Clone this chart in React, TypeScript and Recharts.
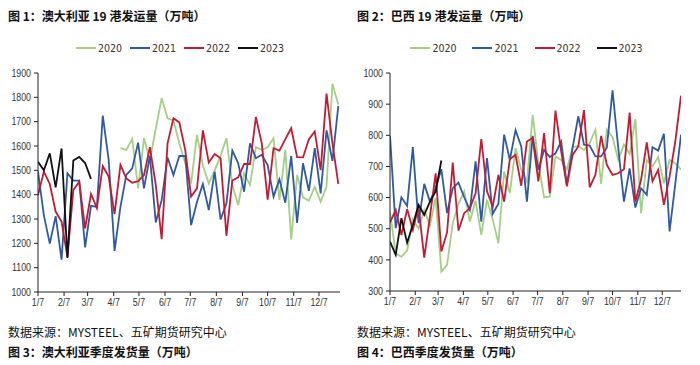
import React from 'react';
import { LineChart, Line, XAxis, YAxis, Legend } from 'recharts';

// ---------- categories / tick labels ----------
const monthTickLabels = ['1/7', '2/7', '3/7', '4/7', '5/7', '6/7', '7/7', '8/7', '9/7', '10/7', '11/7', '12/7'];
const seriesNames = ['2020', '2021', '2022', '2023'];
const seriesColors = ['#a3d086', '#2f5aa3', '#c51a32', '#111111'];
const ausYTicks = [1000, 1100, 1200, 1300, 1400, 1500, 1600, 1700, 1800, 1900];
const braYTicks = [300, 400, 500, 600, 700, 800, 900, 1000];

// ---------- Australia 19 ports weekly shipments (10k t) ----------
const aus2020: (number | null)[] = [
  null, null, null, null, null, null, null, null, null, null, null, null, null, null,
  1591, 1584, 1629, 1426, 1632, 1543, 1670, 1797, 1714, 1705,
  1610, 1530, 1446, 1646, 1520, 1446, 1500, 1560, 1632, 1440,
  1357, 1488, 1440, 1595, 1584, 1595, 1632, 1378, 1584, 1216,
  1481, 1389, 1375, 1433, 1371, 1433, 1856, 1770,
];
const aus2021: (number | null)[] = [
  1495, 1315, 1199, 1312, 1133, 1488, 1458, 1458, 1183, 1354,
  1350, 1725, 1543, 1169, 1350, 1481, 1508, 1614, 1426, 1559,
  1286, 1378, 1553, 1481, 1559, 1559, 1275, 1370, 1444, 1337,
  1495, 1298, 1364, 1581, 1529, 1412, 1611, 1550, 1564, 1522,
  1392, 1463, 1367, 1559, 1284, 1529, 1416, 1591, 1405, 1664,
  1539, 1765,
];
const aus2022: (number | null)[] = [
  1398, 1495, 1444, 1330, 1289, 1144, 1419, 1453, 1261, 1403,
  1345, 1518, 1474, 1320, 1522, 1467, 1449, 1455, 1481, 1595,
  1440, 1217, 1611, 1714, 1697, 1584, 1392, 1426, 1664, 1532,
  1567, 1550, 1231, 1458, 1471, 1526, 1526, 1719, 1611, 1380,
  1591, 1581, 1628, 1673, 1554, 1553, 1628, 1660, 1501, 1815,
  1611, 1444,
];
const aus2023: (number | null)[] = [1535, 1500, 1570, 1430, 1590, 1140, 1540, 1555, 1530, 1465];

// ---------- Brazil 19 ports weekly shipments (10k t) ----------
const bra2020: (number | null)[] = [
  555, 420, 410, 430, 530, 500, 560, 510, 600, 362,
  384, 518, 580, 620, 523, 590, 480, 593, 530, 453,
  684, 614, 759, 689, 650, 866, 711, 601, 603, 732,
  721, 690, 762, 766, 753, 775, 818, 644, 818, 794,
  721, 770, 740, 852, 550, 720, 700, 730, 646, 720,
  710, 690,
];
const bra2021: (number | null)[] = [
  798, 502, 601, 573, 762, 518, 644, 587, 630, 691,
  550, 630, 648, 601, 560, 716, 523, 727, 548, 580,
  802, 721, 816, 764, 587, 798, 689, 753, 730, 742,
  780, 641, 760, 861, 770, 767, 732, 732, 760, 944,
  760, 587, 694, 568, 630, 609, 762, 751, 805, 491,
  645, 802,
];
const bra2022: (number | null)[] = [
  520, 560, 480, 563, 496, 571, 407, 539, 678, 427,
  488, 712, 494, 550, 566, 614, 788, 620, 571, 673,
  587, 723, 737, 638, 780, 791, 652, 807, 614, 879,
  748, 636, 737, 764, 881, 633, 673, 798, 705, 673,
  678, 691, 873, 587, 657, 777, 652, 689, 577, 668,
  780, 927,
];
const bra2023: (number | null)[] = [459, 416, 534, 455, 512, 577, 544, 587, 620, 719];

// ---------- helpers ----------
const DAY = 86400000;
const base = Date.UTC(2023, 0, 7);
const dayOf = (label: string) => {
  const [m, d] = label.split('/').map(Number);
  return Math.round((Date.UTC(2023, m - 1, d) - base) / DAY);
};
const tickDays = monthTickLabels.map(dayOf);
const labelByDay: Record<number, string> = {};
monthTickLabels.forEach((l) => (labelByDay[dayOf(l)] = l));

const buildRows = (cols: (number | null)[][]) => {
  const n = Math.max(...cols.map((c) => c.length));
  const rows: any[] = [];
  for (let i = 0; i < n; i++) {
    const r: any = { d: i * 7 };
    seriesNames.forEach((s, k) => {
      const v = cols[k][i];
      r[s] = v === undefined ? null : v;
    });
    rows.push(r);
  }
  return rows;
};

const ausRows = buildRows([aus2020, aus2021, aus2022, aus2023]);
const braRows = buildRows([bra2020, bra2021, bra2022, bra2023]);

const narrow = "'Liberation Sans Narrow', 'DejaVu Sans Condensed', 'Arial Narrow', sans-serif";
const cjk = "'Noto Sans CJK SC', 'Noto Sans', sans-serif";

const NarrowTick = (props: any) => {
  const { x, y, payload, textAnchor, isX } = props;
  const label = isX ? labelByDay[payload.value] ?? '' : String(payload.value);
  return (
    <g transform={`translate(${x},${y})`}>
      <text
        transform="scale(0.84,1)"
        textAnchor={textAnchor}
        dy={isX ? '0.71em' : '0.355em'}
        fontSize={10.5}
        fill="#333"
        fontFamily="'Liberation Sans', Arial, sans-serif"
      >
        {label}
      </text>
    </g>
  );
};

const makeLegend = (gap: number, shift: number) => (props: any) => {
  const payload = props.payload || [];
  return (
    <div
      style={{
        display: 'flex',
        justifyContent: 'center',
        gap,
        paddingLeft: shift,
        fontFamily: narrow,
        fontSize: 10.5,
        color: '#333',
        lineHeight: '12px',
      }}
    >
      {payload.map((e: any) => (
        <div key={e.value} style={{ display: 'flex', alignItems: 'center' }}>
          <span style={{ display: 'inline-block', width: 20, height: 2, background: e.color, marginRight: 2 }} />
          <span>{e.value}</span>
        </div>
      ))}
    </div>
  );
};

type ChartProps = {
  rows: any[];
  yTicks: number[];
  xMax: number;
  margin: { top: number; right: number; bottom: number; left: number };
  legendGap: number;
  legendShift: number;
};

const WeeklyChart = ({ rows, yTicks, xMax, margin, legendGap, legendShift }: ChartProps) => (
  <LineChart width={350} height={284} data={rows} margin={margin}>
    <XAxis
      dataKey="d"
      type="number"
      domain={[0, xMax]}
      ticks={tickDays}
      interval={0}
      tick={<NarrowTick isX />}
      tickSize={4}
      tickMargin={3}
      height={20}
      axisLine={{ stroke: '#222' }}
      tickLine={{ stroke: '#222' }}
      allowDataOverflow
    />
    <YAxis
      type="number"
      domain={[yTicks[0], yTicks[yTicks.length - 1]]}
      ticks={yTicks}
      interval={0}
      tick={<NarrowTick />}
      tickSize={4}
      tickMargin={3}
      width={30}
      axisLine={{ stroke: '#222' }}
      tickLine={{ stroke: '#222' }}
    />
    <Legend
      verticalAlign="middle"
      layout="horizontal"
      wrapperStyle={{ top: 6, left: 0, width: 350, height: 14 }}
      content={makeLegend(legendGap, legendShift)}
    />
    {seriesNames.map((s, k) => (
      <Line
        key={s}
        type="linear"
        dataKey={s}
        name={s}
        stroke={seriesColors[k]}
        strokeWidth={1.8}
        dot={false}
        activeDot={false}
        connectNulls={false}
        isAnimationActive={false}
      />
    ))}
  </LineChart>
);

const textBase: React.CSSProperties = {
  position: 'absolute',
  whiteSpace: 'nowrap',
  fontFamily: cjk,
  color: '#111',
  lineHeight: '15px',
};

export default function App() {
  return (
    <div style={{ position: 'absolute', left: 0, top: 0, width: 700, height: 365, background: '#fff', overflow: 'hidden' }}>
      <div style={{ ...textBase, left: 8, top: 8, fontSize: 12, fontWeight: 700 }}>图 1：澳大利亚 19 港发运量（万吨）</div>
      <div style={{ ...textBase, left: 357, top: 8, fontSize: 12, fontWeight: 700 }}>图 2：巴西 19 港发运量（万吨）</div>

      <div style={{ position: 'absolute', left: 0, top: 36 }}>
        <WeeklyChart
          rows={ausRows}
          yTicks={ausYTicks}
          xMax={359}
          margin={{ top: 37, right: 10, bottom: 8, left: 8 }}
          legendGap={8}
          legendShift={10}
        />
      </div>
      <div style={{ position: 'absolute', left: 350, top: 36 }}>
        <WeeklyChart
          rows={braRows}
          yTicks={braYTicks}
          xMax={357}
          margin={{ top: 37, right: 19, bottom: 9, left: 10 }}
          legendGap={16}
          legendShift={3}
        />
      </div>

      <div style={{ ...textBase, left: 8, top: 324, fontSize: 12 }}>数据来源：MYSTEEL、五矿期货研究中心</div>
      <div style={{ ...textBase, left: 357, top: 324, fontSize: 12 }}>数据来源：MYSTEEL、五矿期货研究中心</div>
      <div style={{ ...textBase, left: 8, top: 344, fontSize: 12, fontWeight: 700 }}>图 3：澳大利亚季度发货量（万吨）</div>
      <div style={{ ...textBase, left: 357, top: 344, fontSize: 12, fontWeight: 700 }}>图 4：巴西季度发货量（万吨）</div>
    </div>
  );
}
